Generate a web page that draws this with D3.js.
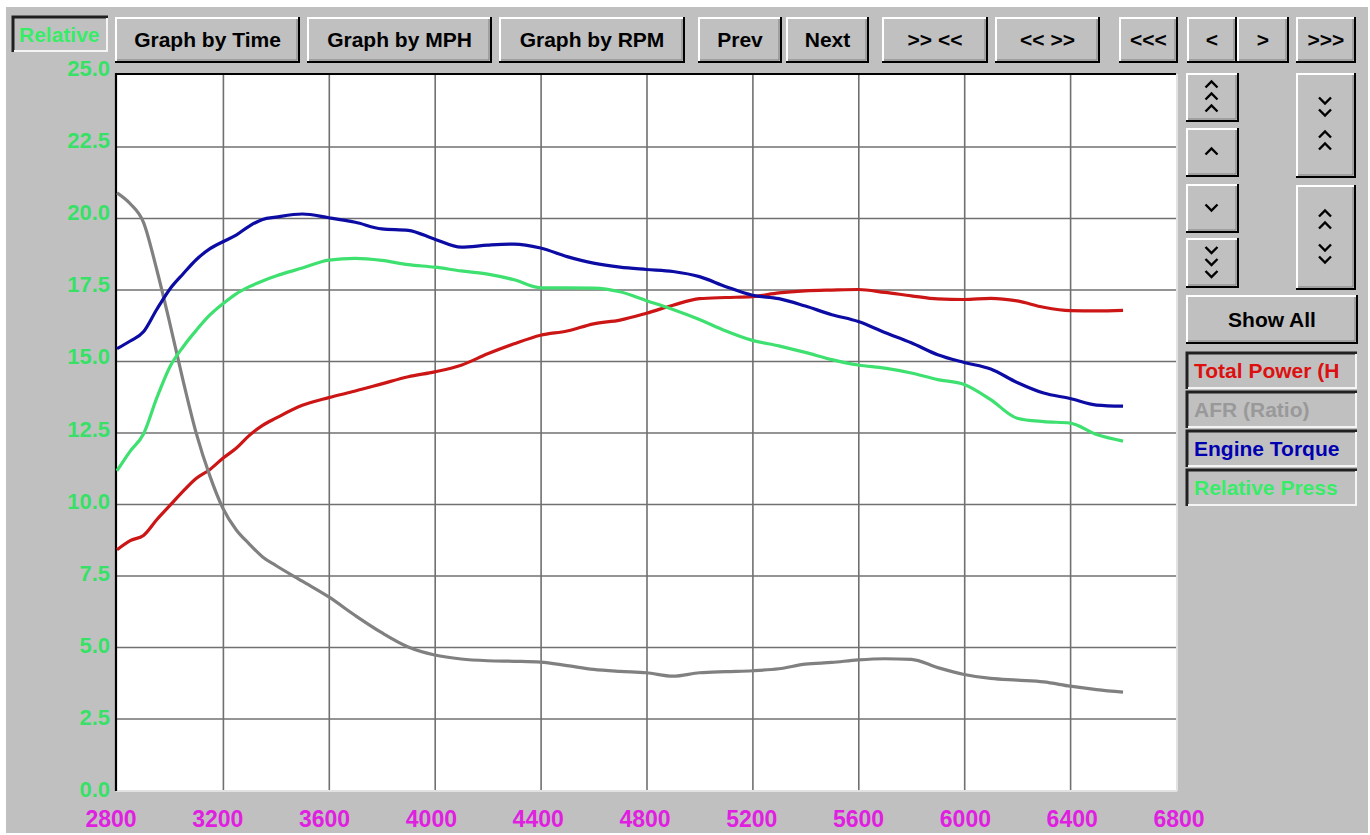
<!DOCTYPE html>
<meta charset="utf-8">
<style>
body { margin: 0; background: #fff; }
svg text { font-family: "Liberation Sans", Arial, sans-serif; font-weight: bold; }
</style>
<svg width="1370" height="835"></svg>
<script src="https://cdn.jsdelivr.net/npm/d3@7/dist/d3.min.js"></script>
<script>

// engine speed samples (rpm)
var rpm = [2800, 2850, 2900, 2950, 3000, 3050, 3100, 3150, 3200, 3250, 3300, 3350, 3400,
  3500, 3600, 3700, 3800, 3900, 4000, 4100, 4200, 4300, 4400, 4500, 4600, 4700, 4800,
  4900, 5000, 5100, 5200, 5300, 5400, 5500, 5600, 5700, 5800, 5900, 6000, 6100, 6200,
  6300, 6400, 6500, 6600];

var totalPower = [8.4, 8.72, 8.9, 9.45, 9.95, 10.45, 10.9, 11.2, 11.6, 11.95, 12.4, 12.75, 13.0,
  13.45, 13.72, 13.95, 14.2, 14.45, 14.62, 14.85, 15.25, 15.6, 15.9, 16.05, 16.3, 16.43, 16.67,
  16.95, 17.18, 17.22, 17.25, 17.38, 17.45, 17.48, 17.5, 17.4, 17.28, 17.17, 17.15, 17.19, 17.1,
  16.88, 16.76, 16.75, 16.77];

var afrRatio = [20.88, 20.5, 19.85, 18.2, 16.3, 14.3, 12.45, 11.0, 9.85, 9.1, 8.6, 8.15, 7.85,
  7.3, 6.75, 6.1, 5.5, 5.0, 4.72, 4.58, 4.52, 4.5, 4.47, 4.35, 4.22, 4.15, 4.1,
  3.98, 4.1, 4.14, 4.17, 4.24, 4.4, 4.46, 4.55, 4.59, 4.57, 4.28, 4.04, 3.9, 3.84,
  3.78, 3.63, 3.51, 3.42];

var engineTorque = [15.43, 15.7, 16.02, 16.8, 17.52, 18.05, 18.55, 18.92, 19.17, 19.4, 19.72, 19.95, 20.03,
  20.14, 20.01, 19.85, 19.62, 19.57, 19.26, 18.98, 19.05, 19.09, 18.95, 18.65, 18.42, 18.28, 18.2,
  18.13, 17.95, 17.6, 17.3, 17.18, 16.92, 16.62, 16.38, 16.0, 15.64, 15.22, 14.95, 14.72, 14.25,
  13.88, 13.69, 13.46, 13.42];

var relativePress = [11.16, 11.85, 12.45, 13.7, 14.8, 15.5, 16.08, 16.6, 17.0, 17.35, 17.6, 17.8, 17.97,
  18.25, 18.53, 18.59, 18.52, 18.37, 18.28, 18.15, 18.04, 17.84, 17.56, 17.56, 17.55, 17.42, 17.11,
  16.8, 16.45, 16.05, 15.72, 15.53, 15.3, 15.05, 14.86, 14.75, 14.58, 14.35, 14.18, 13.65, 13.0,
  12.88, 12.83, 12.43, 12.2];

var seriesNames = ["Total Power (H", "AFR (Ratio)", "Engine Torque", "Relative Press"];
var seriesValues = [totalPower, afrRatio, engineTorque, relativePress];
var seriesColors = ["#cc1616", "#808080", "#0c0ca4", "#3ee070"];
var legendColors = ["#dd1010", "#999999", "#0000b0", "#38ec68"];

var yTicks = [0, 2.5, 5, 7.5, 10, 12.5, 15, 17.5, 20, 22.5, 25];
var xTicks = [2800, 3200, 3600, 4000, 4400, 4800, 5200, 5600, 6000, 6400, 6800];

var topLabels = ["Graph by Time", "Graph by MPH", "Graph by RPM", "Prev", "Next",
  ">> <<", "<< >>", "<<<", "<", ">", ">>>"];

// layout of the window chrome
var topButtonBox = [[115, 185], [307, 185], [499, 186], [698, 84], [786, 83],
  [882, 106], [995, 105], [1119, 59], [1187, 50], [1237, 52], [1296, 60]];
var sideButtons = [
  {x: 1186, y: 73, w: 53, h: 49, chev: [[-12, "u"], [0, "u"], [12, "u"]]},
  {x: 1186, y: 128, w: 53, h: 49, chev: [[0, "u"]]},
  {x: 1186, y: 184, w: 53, h: 49, chev: [[0, "d"]]},
  {x: 1186, y: 238, w: 53, h: 50, chev: [[-12, "d"], [0, "d"], [12, "d"]]},
  {x: 1296, y: 73, w: 60, h: 105, chev: [[-24, "d"], [-12, "d"], [10, "u"], [22, "u"]]},
  {x: 1296, y: 185, w: 60, h: 105, chev: [[-23, "u"], [-11, "u"], [11, "d"], [23, "d"]]}
];
var legendTops = [353, 392, 431, 470];

var svg = d3.select("svg");

svg.append("rect")
    .attr("x", 6).attr("y", 7)
    .attr("width", 1362).attr("height", 826)
    .attr("fill", "#c0c0c0");

function raised(x, y, w, h) {
  var g = svg.append("g");
  g.append("rect").attr("x", x).attr("y", y).attr("width", w).attr("height", h).attr("fill", "#c0c0c0");
  g.append("path")
      .attr("d", "M" + (x + 1) + "," + (y + h - 1) + "V" + (y + 1) + "H" + (x + w - 1))
      .attr("stroke", "#fff").attr("stroke-width", 2).attr("fill", "none");
  g.append("path")
      .attr("d", "M" + (x + 2) + "," + (y + h - 3) + "H" + (x + w - 3) + "V" + (y + 2))
      .attr("stroke", "#808080").attr("stroke-width", 1).attr("fill", "none");
  g.append("path")
      .attr("d", "M" + x + "," + (y + h - 1) + "H" + (x + w - 1) + "V" + y)
      .attr("stroke", "#000").attr("stroke-width", 2).attr("fill", "none");
  return g;
}

function sunken(x, y, w, h) {
  var g = svg.append("g");
  g.append("rect").attr("x", x).attr("y", y).attr("width", w).attr("height", h).attr("fill", "#c0c0c0");
  g.append("path")
      .attr("d", "M" + x + "," + (y + h) + "V" + y + "H" + (x + w))
      .attr("stroke", "#202020").attr("stroke-width", 3).attr("fill", "none");
  g.append("path")
      .attr("d", "M" + (x + 1) + "," + (y + h - 1) + "H" + (x + w - 1) + "V" + (y + 1))
      .attr("stroke", "#f4f4f4").attr("stroke-width", 2).attr("fill", "none");
  return g;
}

// top row of buttons
topLabels.forEach(function(label, i) {
  var b = topButtonBox[i];
  raised(b[0], 17, b[1], 46)
    .append("text")
      .attr("x", b[0] + b[1] / 2)
      .attr("y", 47)
      .attr("text-anchor", "middle")
      .attr("font-size", 21)
      .attr("fill", "#000")
      .text(label);
});

// selected axis label box
sunken(13, 17, 95, 35)
  .append("text")
    .attr("x", 19).attr("y", 42)
    .attr("font-size", 21)
    .attr("fill", legendColors[3])
    .text("Relative");

// scroll / zoom buttons with chevrons
sideButtons.forEach(function(b) {
  var g = raised(b.x, b.y, b.w, b.h);
  var cx = b.x + b.w / 2 - 1, cy = b.y + b.h / 2 - 1;
  b.chev.forEach(function(c) {
    var yy = cy + c[0], s = c[1] === "u" ? 1 : -1;
    g.append("path")
        .attr("d", "M" + (cx - 6) + "," + (yy + 3 * s) + "L" + cx + "," + (yy - 3 * s) + "L" + (cx + 6) + "," + (yy + 3 * s))
        .attr("stroke", "#000").attr("stroke-width", 2.4).attr("fill", "none");
  });
});

raised(1186, 295, 172, 49)
  .append("text")
    .attr("x", 1272).attr("y", 327)
    .attr("text-anchor", "middle")
    .attr("font-size", 21)
    .text("Show All");

// legend boxes
svg.append("clipPath").attr("id", "legclip")
  .append("rect").attr("x", 1189).attr("y", 340).attr("width", 164).attr("height", 180);

seriesNames.forEach(function(name, i) {
  sunken(1187, legendTops[i], 170, 36)
    .append("text")
      .attr("clip-path", "url(#legclip)")
      .attr("x", 1194).attr("y", legendTops[i] + 25)
      .attr("font-size", 21)
      .attr("fill", legendColors[i])
      .text(name);
});

// plot area
var x = d3.scaleLinear().domain([2800, 6800]).range([117, 1176]);
var y = d3.scaleLinear().domain([0, 25]).range([790, 75]);
var xLabelPos = d3.scaleLinear().domain([2800, 6800]).range([111, 1179]);
var yLabelPos = d3.scaleLinear().domain([0, 25]).range([797, 76]);

svg.append("rect")
    .attr("x", x(2800)).attr("y", y(25))
    .attr("width", x(6800) - x(2800)).attr("height", y(0) - y(25))
    .attr("fill", "#fff");

svg.append("g")
    .attr("transform", "translate(0," + y(0) + ")")
    .call(d3.axisBottom(x).tickValues(xTicks.slice(1, -1)).tickSize(-(y(0) - y(25))).tickFormat(""))
    .call(function(g) { g.select(".domain").remove(); })
    .selectAll("line").attr("stroke", "#707070").attr("stroke-width", 1.6);

svg.append("g")
    .attr("transform", "translate(" + x(2800) + ",0)")
    .call(d3.axisLeft(y).tickValues(yTicks.slice(1, -1)).tickSize(-(x(6800) - x(2800))).tickFormat(""))
    .call(function(g) { g.select(".domain").remove(); })
    .selectAll("line").attr("stroke", "#707070").attr("stroke-width", 1.6);

// frame of the plot
svg.append("path")
    .attr("d", "M" + (x(6800) + 1) + "," + (y(0) + 1) + "H" + (x(2800) - 1) + "M" + (x(6800) + 1) + "," + (y(25) - 1) + "V" + (y(0) + 1))
    .attr("stroke", "#e2e2e2").attr("stroke-width", 2).attr("fill", "none");
svg.append("path")
    .attr("d", "M" + (x(2800) - 1) + "," + (y(0) + 1) + "V" + (y(25) - 1) + "H" + x(6800))
    .attr("stroke", "#000").attr("stroke-width", 2.2).attr("fill", "none");

// series lines
var line = d3.line()
    .x(function(d) { return x(d[0]); })
    .y(function(d) { return y(d[1]); })
    .curve(d3.curveMonotoneX);

seriesValues.forEach(function(vals, i) {
  svg.append("path")
      .datum(rpm.map(function(r, j) { return [r, vals[j]]; }))
      .attr("d", line)
      .attr("fill", "none")
      .attr("stroke", seriesColors[i])
      .attr("stroke-width", 3.2)
      .attr("stroke-linejoin", "round");
});

// axis labels
svg.append("g").selectAll("text")
  .data(yTicks)
  .enter().append("text")
    .attr("x", 110)
    .attr("y", function(d) { return yLabelPos(d); })
    .attr("text-anchor", "end")
    .attr("font-size", 22)
    .attr("fill", "#38e068")
    .text(function(d) { return d3.format(".1f")(d); });

svg.append("g").selectAll("text")
  .data(xTicks)
  .enter().append("text")
    .attr("x", function(d) { return xLabelPos(d); })
    .attr("y", 827)
    .attr("text-anchor", "middle")
    .attr("font-size", 23)
    .attr("fill", "#e020e0")
    .text(function(d) { return d; });

</script>
